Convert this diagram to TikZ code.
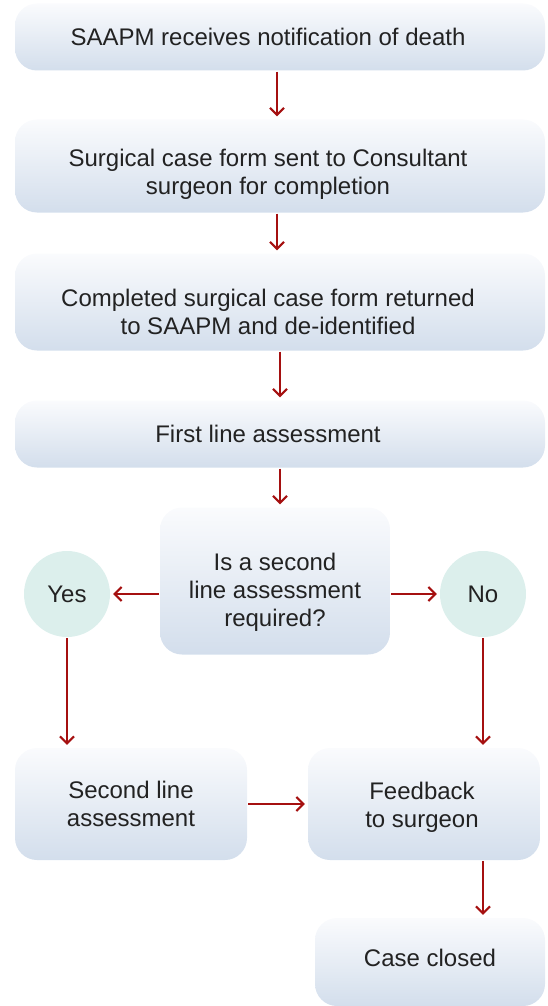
\documentclass[tikz,border=0pt]{standalone}
\usepackage{fontspec}
\setmainfont{Liberation Sans}
\usetikzlibrary{arrows.meta}
\definecolor{flowred}{RGB}{165,16,16}
\definecolor{boxtop}{RGB}{250,251,253}
\definecolor{boxbottom}{RGB}{211,222,236}
\definecolor{answerfill}{RGB}{220,239,236}
\definecolor{textgray}{RGB}{34,34,34}
% text sits a little off centre in the boxes
\newcommand{\shiftleft}{\hspace*{-24pt}}
\newcommand{\dropto}[1]{\rule{0pt}{#1}}

\begin{document}
\begin{tikzpicture}[x=1pt,y=1pt,->,>={Straight Barb[length=7pt,width=14pt]},shorten >=2pt,
                    line width=2.2pt,draw=flowred]
  \tikzstyle{every node}=[font=\fontsize{24}{28}\selectfont,text=textgray,align=center]
  \tikzstyle{stage}=[rectangle,rounded corners=22pt,draw=none,top color=boxtop,
                     bottom color=boxbottom,inner sep=0pt]
  \tikzstyle{answer}=[circle,draw=none,fill=answerfill,minimum size=86pt,inner sep=0pt]
\useasboundingbox (0,0) rectangle (548,-1006);
\node [stage,minimum width=530,minimum height=67] (notify) at (280,-37) {\shiftleft SAAPM receives notification of death};
\node [stage,minimum width=530,minimum height=93] (form) at (280,-166) {\dropto{34pt}\shiftleft Surgical case form sent to Consultant\\\shiftleft surgeon for completion};
\node [stage,minimum width=530,minimum height=97] (returned) at (280,-302) {\dropto{38pt}\shiftleft Completed surgical case form returned\\\shiftleft to SAAPM and de-identified};
\node [stage,minimum width=530,minimum height=67] (first) at (280,-434) {\shiftleft First line assessment};
\node [stage,minimum width=230,minimum height=147] (quest) at (275,-581) {\dropto{40pt}Is a second\\line assessment\\required?};
\node [answer] (yes) at (67,-594) {Yes};
\node [answer] (no) at (483,-594) {No};
\node [stage,minimum width=232,minimum height=112] (second) at (131,-804) {Second line\\assessment};
\node [stage,minimum width=232,minimum height=112] (feedback) at (424,-804) {\dropto{24pt}\hspace*{-4pt}Feedback\\\hspace*{-4pt}to surgeon};
\node [stage,minimum width=230,minimum height=88] (closed) at (430,-962) {Case closed\rule[-8pt]{0pt}{8pt}};

\draw ([xshift=-3]notify.south) -- ([xshift=-3]form.north);
\draw ([xshift=-3]form.south) -- ([xshift=-3]returned.north);
\draw (returned) -- (first);
\draw (first) -- (first |- quest.north);
\draw (quest.west |- yes) -- (yes);
\draw (quest.east |- no) -- (no);
\draw (yes) -- (yes |- second.north);
\draw (no) -- (no |- feedback.north);
\draw (second) -- (feedback);
\draw (no |- feedback.south) -- (no |- closed.north);
	\end{tikzpicture}
\end{document}
